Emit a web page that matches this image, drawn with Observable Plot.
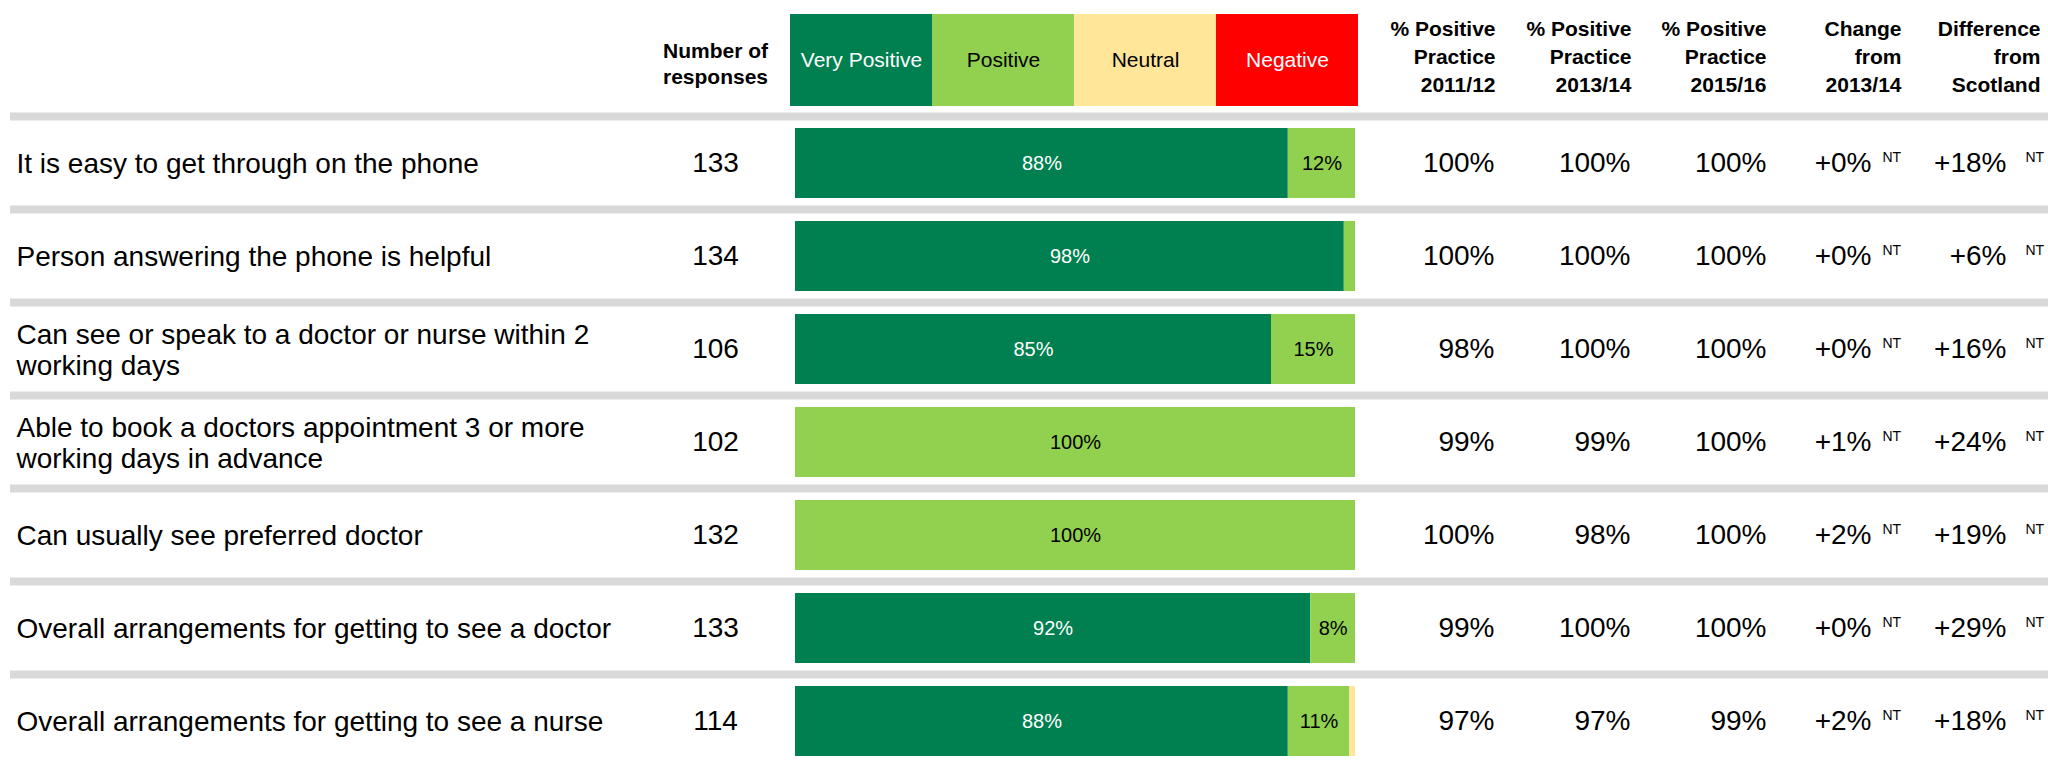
<!DOCTYPE html>
<html>
<head>
<meta charset="utf-8">
<script src="https://cdn.jsdelivr.net/npm/d3@7"></script>
<script src="https://cdn.jsdelivr.net/npm/@observablehq/plot@0.6"></script>
<style>
  html, body { margin: 0; padding: 0; background: #ffffff; }
  #chart svg { display: block; }
</style>
</head>
<body>
<div id="chart"></div>
<script>
// ---------- data ----------
const categories = ["Very Positive", "Positive", "Neutral", "Negative"];
const categoryColors = ["#008050", "#92D050", "#FFE699", "#FF0000"];
const darkCategories = ["Very Positive", "Negative"];

const questions = [
  "It is easy to get through on the phone",
  "Person answering the phone is helpful",
  "Can see or speak to a doctor or nurse within 2\nworking days",
  "Able to book a doctors appointment 3 or more\nworking days in advance",
  "Can usually see preferred doctor",
  "Overall arrangements for getting to see a doctor",
  "Overall arrangements for getting to see a nurse"
];
const responses = [133, 134, 106, 102, 132, 133, 114];

const veryPositive = [88, 98, 85, 0, 0, 92, 88];
const positive     = [12, 2, 15, 100, 100, 8, 11];
const neutral      = [0, 0, 0, 0, 0, 0, 1];
const negative     = [0, 0, 0, 0, 0, 0, 0];

const pct2011 = [100, 100, 98, 99, 100, 99, 97];
const pct2013 = [100, 100, 100, 99, 98, 100, 97];
const pct2015 = [100, 100, 100, 100, 100, 100, 99];
const change2013 = [0, 0, 0, 1, 2, 0, 2];
const diffScotland = [18, 6, 16, 24, 19, 29, 18];
const changeSig = ["NT", "NT", "NT", "NT", "NT", "NT", "NT"];
const diffSig = ["NT", "NT", "NT", "NT", "NT", "NT", "NT"];

const numberHeader = "Number of\nresponses";
const columnHeaders = [
  "% Positive\nPractice\n2011/12",
  "% Positive\nPractice\n2013/14",
  "% Positive\nPractice\n2015/16",
  "Change\nfrom\n2013/14",
  "Difference\nfrom\nScotland"
];

// ---------- derived tables ----------
const seriesValues = [veryPositive, positive, neutral, negative];
const stacked = questions.flatMap((q, i) =>
  categories.map((c, j) => ({question: q, category: c, value: seriesValues[j][i]}))
);
const table = questions.map((q, i) => ({
  question: q,
  responses: responses[i],
  p2011: pct2011[i] + "%",
  p2013: pct2013[i] + "%",
  p2015: pct2015[i] + "%",
  change: "+" + change2013[i] + "%",
  changeSig: changeSig[i],
  diff: "+" + diffScotland[i] + "%",
  diffSig: diffSig[i]
}));

const FONT = "'Liberation Sans', Arial, Helvetica, sans-serif";
const W = 2048;

// ---------- header (legend + column titles) ----------
const headerPlot = Plot.plot({
  width: W, height: 112,
  marginTop: 14, marginBottom: 6, marginLeft: 0, marginRight: 0,
  style: {fontFamily: FONT, background: "#ffffff", color: "#000"},
  x: {type: "band", domain: categories, range: [790, 1358], padding: 0, axis: null},
  color: {domain: categories, range: categoryColors},
  marks: [
    Plot.cell(categories, {x: d => d, fill: d => d}),
    Plot.text(categories, {x: d => d, text: d => d, fontSize: 21, fill: "white",
      filter: d => darkCategories.includes(d)}),
    Plot.text(categories, {x: d => d, text: d => d, fontSize: 21, fill: "black",
      filter: d => !darkCategories.includes(d)}),
    Plot.text([numberHeader], {text: d => d, frameAnchor: "top-left", lineAnchor: "top",
      textAnchor: "middle", dx: 715, dy: 25.5, fontSize: 21, fontWeight: "bold", lineHeight: 1.238}),
    ...columnHeaders.map((h, k) =>
      Plot.text([h], {text: d => d, frameAnchor: "top-left", lineAnchor: "top",
        textAnchor: "end", dx: [1495, 1631, 1766, 1901, 2040][k], dy: 2,
        fontSize: 21, fontWeight: "bold", lineHeight: 1.333})
    )
  ]
});

// ---------- main table ----------
const cy = 4.5; // content offset from band centre
const mainPlot = Plot.plot({
  width: W, height: 649,
  marginTop: 0, marginBottom: 0, marginLeft: 10, marginRight: 0,
  style: {fontFamily: FONT, background: "#ffffff", color: "#000"},
  x: {domain: [0, 100], range: [795, 1355], axis: null},
  y: {type: "band", domain: questions, range: [0, 651], padding: 0, axis: null},
  color: {domain: categories, range: categoryColors},
  marks: [
    Plot.ruleY(questions, {y: d => d, stroke: "#d9d9d9", strokeWidth: 8, dy: -42.5}),
    Plot.barX(stacked, {x: "value", y: "question", fill: "category", insetTop: 16, insetBottom: 7}),
    Plot.text(stacked, Plot.stackX({x: "value", y: "question", z: "category",
      text: d => (d.category === "Very Positive" && d.value >= 5) ? d.value + "%" : null,
      fill: "white", fontSize: 20, dy: cy})),
    Plot.text(stacked, Plot.stackX({x: "value", y: "question", z: "category",
      text: d => (d.category !== "Very Positive" && d.value >= 5 && d.value < 100) ? d.value + "%" :
                 (d.category !== "Very Positive" && d.value === 100) ? d.value + "%" : null,
      fill: "black", fontSize: 20, dy: cy})),
    Plot.text(table, {y: "question", text: "question", frameAnchor: "left", textAnchor: "start",
      dx: 6, dy: cy, fontSize: 28, lineHeight: 1.1}),
    Plot.text(table, {y: "question", text: "responses", frameAnchor: "left", textAnchor: "middle",
      dx: 705, dy: cy, fontSize: 28}),
    Plot.text(table, {y: "question", text: "p2011", frameAnchor: "left", textAnchor: "end",
      dx: 1484, dy: cy, fontSize: 28}),
    Plot.text(table, {y: "question", text: "p2013", frameAnchor: "left", textAnchor: "end",
      dx: 1620, dy: cy, fontSize: 28}),
    Plot.text(table, {y: "question", text: "p2015", frameAnchor: "left", textAnchor: "end",
      dx: 1756, dy: cy, fontSize: 28}),
    Plot.text(table, {y: "question", text: "change", frameAnchor: "left", textAnchor: "end",
      dx: 1861, dy: cy, fontSize: 28}),
    Plot.text(table, {y: "question", text: "changeSig", frameAnchor: "left", textAnchor: "start",
      dx: 1872, dy: -1, fontSize: 14}),
    Plot.text(table, {y: "question", text: "diff", frameAnchor: "left", textAnchor: "end",
      dx: 1996, dy: cy, fontSize: 28}),
    Plot.text(table, {y: "question", text: "diffSig", frameAnchor: "left", textAnchor: "start",
      dx: 2015, dy: -1, fontSize: 14})
  ]
});

const chart = document.getElementById("chart");
chart.appendChild(headerPlot);
chart.appendChild(mainPlot);
</script>
</body>
</html>
